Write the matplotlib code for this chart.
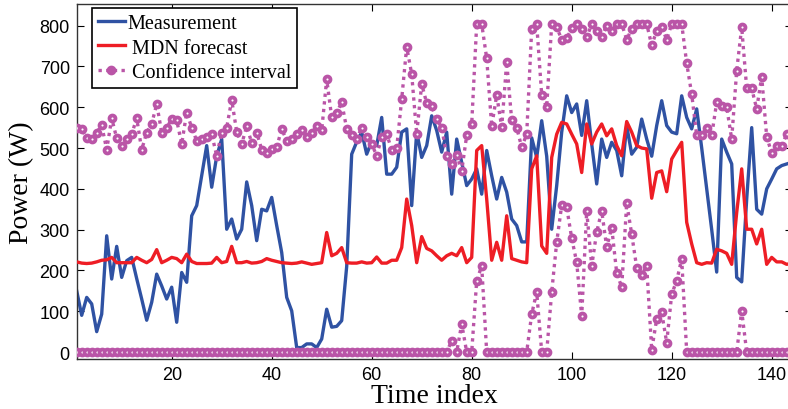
import numpy as np
import matplotlib
matplotlib.use("Agg")
import matplotlib.pyplot as plt

# hourly samples, power in W
t = np.arange(1, 145)

measurement = [150, 90, 134, 118, 50, 93, 285, 179, 259, 183, 224, 232, 180, 130, 78, 122, 191, 162, 130, 159,
               73, 195, 171, 334, 359, 432, 506, 404, 480, 522, 301, 326, 277, 301, 417, 359, 273, 350, 346, 379,
               310, 244, 134, 101, 11, 11, 20, 20, 11, 32, 105, 61, 63, 77, 210, 485, 515, 539, 485, 516,
               506, 575, 436, 436, 453, 539, 547, 359, 539, 477, 506, 579, 543, 490, 539, 387, 522, 465, 408, 424,
               449, 387, 494, 432, 375, 428, 392, 326, 310, 270, 270, 525, 477, 567, 480, 301, 408, 539, 628, 587,
               608, 531, 616, 510, 412, 522, 477, 514, 494, 432, 555, 485, 502, 571, 522, 480, 555, 616, 555, 539,
               535, 628, 575, 547, 596, 500, 400, 300, 196, 522, 490, 461, 183, 172, 375, 550, 350, 338, 400, 424,
               449, 457, 461, 465]

forecast = [221, 218, 217, 218, 221, 225, 226, 232, 219, 219, 219, 219, 232, 225, 219, 227, 251, 219, 225, 232,
            229, 219, 240, 222, 217, 217, 217, 218, 232, 219, 222, 259, 219, 219, 222, 218, 219, 222, 229, 225,
            222, 219, 218, 217, 218, 221, 218, 215, 217, 219, 293, 236, 242, 256, 219, 218, 218, 221, 218, 219,
            233, 218, 218, 225, 225, 256, 375, 310, 219, 283, 254, 248, 236, 225, 236, 242, 236, 256, 219, 232,
            494, 506, 375, 225, 269, 225, 334, 229, 225, 221, 219, 449, 481, 260, 242, 477, 534, 563, 559, 534,
            510, 440, 559, 510, 539, 559, 530, 547, 506, 481, 565, 539, 506, 500, 498, 377, 440, 444, 393, 473,
            494, 514, 318, 265, 219, 215, 219, 218, 252, 248, 242, 215, 342, 449, 301, 301, 265, 301, 215, 232,
            221, 221, 215, 218]

ci_upper = [550, 547, 524, 522, 538, 556, 496, 573, 524, 506, 522, 534, 573, 496, 538, 559, 608, 538, 550, 571,
            568, 510, 587, 550, 518, 522, 527, 534, 481, 538, 550, 618, 540, 510, 553, 513, 538, 496, 488, 497,
            502, 547, 518, 522, 534, 545, 527, 538, 553, 543, 669, 575, 587, 612, 547, 531, 522, 550, 527, 510,
            481, 527, 534, 496, 500, 620, 748, 681, 534, 657, 610, 602, 571, 550, 481, 461, 483, 444, 531, 559,
            804, 804, 720, 553, 630, 551, 711, 568, 550, 502, 534, 792, 804, 630, 600, 804, 796, 766, 769, 793,
            804, 792, 771, 804, 787, 773, 800, 787, 804, 804, 766, 792, 804, 804, 804, 752, 787, 796, 766, 804,
            805, 804, 708, 632, 531, 531, 550, 531, 612, 603, 600, 522, 690, 796, 646, 646, 596, 675, 527, 488,
            506, 506, 534, 530]

ci_lower = [0] * 75 + [28, 0, 69, 0, 0, 175, 211, 0, 0, 0, 0, 0, 0, 0, 0, 0, 93, 147, 0, 0,
                       147, 269, 360, 355, 279, 220, 88, 346, 211, 294, 346, 257, 305, 194, 159, 365, 289, 207, 189, 211,
                       5, 81, 97, 23, 142, 175, 228] + [0] * 11 + [101] + [0] * 10

c_meas = '#2F52A3'
c_fc = '#EE1D25'
c_ci = '#BA55A7'

serif = 'Liberation Serif'
sans = 'Liberation Sans'

fig = plt.figure(figsize=(7.88, 4.10), dpi=100)
ax = fig.add_axes([76.7 / 788, 50 / 410, 715 / 788, 355 / 410])

ax.plot(t, measurement, color=c_meas, lw=2.4, label='Measurement', zorder=2)
ax.plot(t, forecast, color=c_fc, lw=2.4, label=' MDN forecast', zorder=3)
ci_style = dict(color=c_ci, lw=2.4, ls=(0, (1.0, 1.3)), marker='o', ms=4.3, mfc='white',
                mec=c_ci, mew=2.7, zorder=4)
ax.plot(t, ci_upper, label=' Confidence interval', **ci_style)
ax.plot(t, ci_lower, **ci_style)

ax.set_xlim(1, 144)
ax.set_ylim(-17, 853)
ax.set_xticks(np.arange(20, 141, 20))
ax.set_yticks(np.arange(0, 801, 100))
ax.tick_params(direction='in', top=True, right=True, length=5, width=0.8,
               labelsize=13, pad=5)
ax.tick_params(axis='x', pad=5)
for lab in ax.get_xticklabels() + ax.get_yticklabels():
    lab.set_family(sans)
for sp in ax.spines.values():
    sp.set_linewidth(1.0)
    sp.set_color('#333333')

ax.set_xlabel('Time index', family=serif, fontsize=20, labelpad=0)
ax.set_ylabel('Power (W)', family=serif, fontsize=20, labelpad=4)

leg = ax.legend(loc='upper left', bbox_to_anchor=(0.021, 0.988), borderaxespad=0,
                prop={'family': serif, 'size': 14.5}, handlelength=1.35, handletextpad=0.1,
                labelspacing=0.25, borderpad=0.3, fancybox=False, framealpha=1)
leg.get_frame().set_edgecolor('black')
leg.get_frame().set_linewidth(1.2)
# filled marker in the legend key
leg.legend_handles[2].set_markerfacecolor(c_ci)

fig.savefig('out.png', dpi=100)
